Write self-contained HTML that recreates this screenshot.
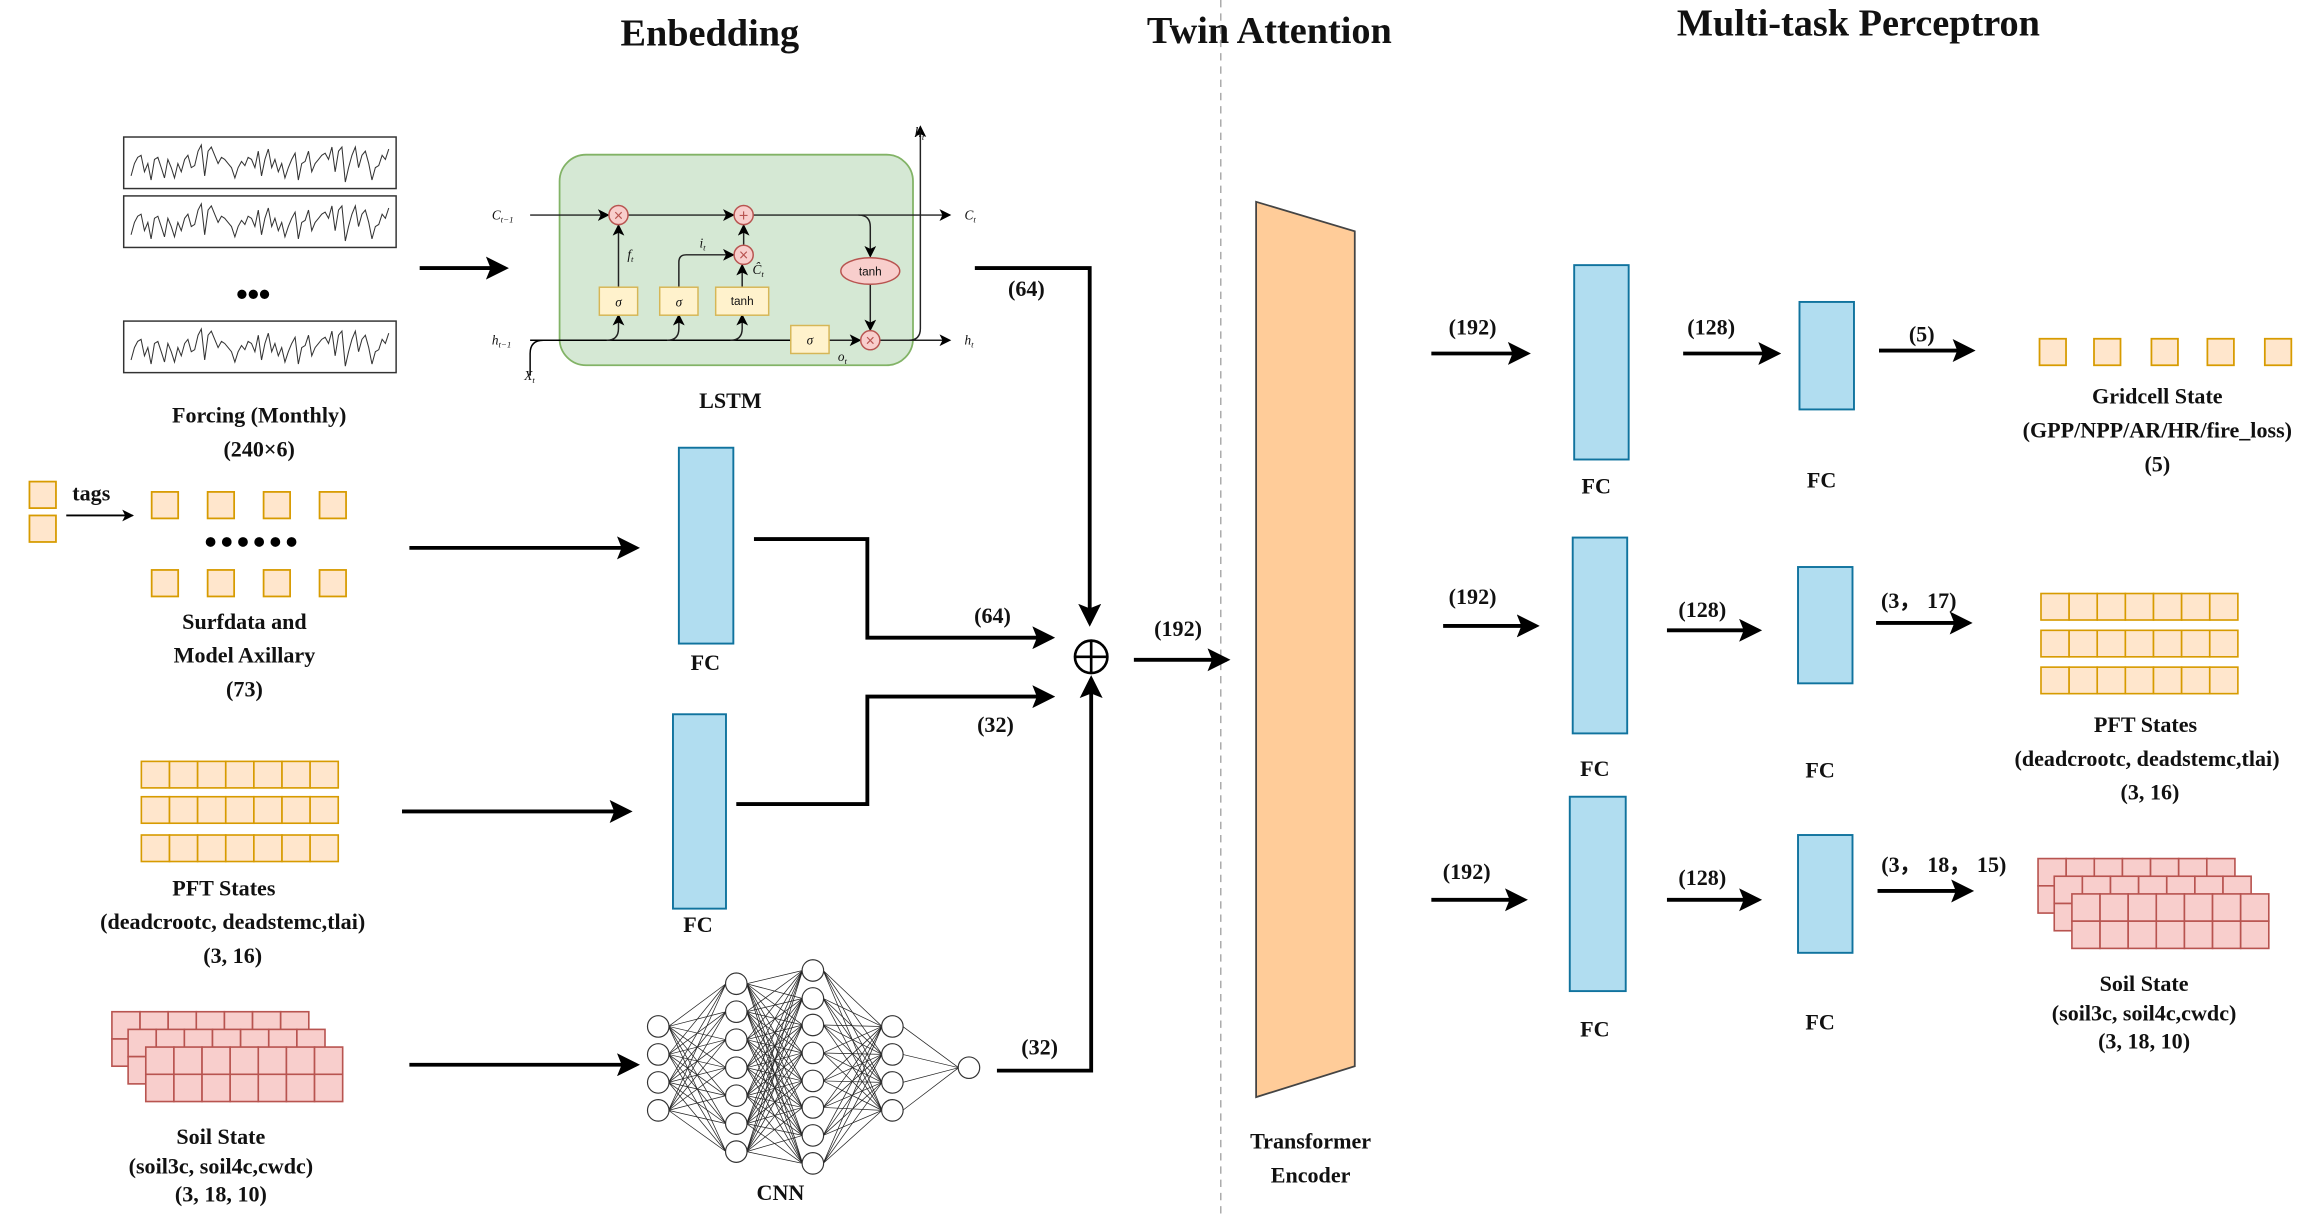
<!DOCTYPE html>
<html><head><meta charset="utf-8"><style>
html,body{margin:0;padding:0;background:#fff;}
svg{display:block;}
.t{font-family:"Liberation Serif",serif;font-weight:bold;font-size:15px;text-anchor:middle;fill:#111;}
.h{font-family:"Liberation Serif",serif;font-weight:bold;font-size:26px;text-anchor:middle;fill:#111;}
.it{font-family:"Liberation Serif",serif;font-style:italic;font-size:9px;fill:#111;}
.s{font-family:"Liberation Sans",sans-serif;font-size:8px;text-anchor:middle;fill:#111;}
.a{stroke:#000;stroke-width:2.6;fill:none;marker-end:url(#ah);}
.l{stroke:#000;stroke-width:2.6;fill:none;}
.fc{fill:#b1ddf0;stroke:#10739e;stroke-width:1.3;}
.sm{stroke:#222;stroke-width:1;fill:none;marker-end:url(#as);}
</style></head><body>
<svg id="sv" width="2309" height="1215" viewBox="0 0 1568 825" xmlns="http://www.w3.org/2000/svg">
<defs>
<marker id="ah" markerWidth="6" markerHeight="6" refX="5" refY="3" orient="auto" markerUnits="strokeWidth"><path d="M0,0 L6,3 L0,6 L1.2,3 z" fill="#000"/></marker>
<marker id="as" markerWidth="8" markerHeight="8" refX="7" refY="4" orient="auto" markerUnits="userSpaceOnUse"><path d="M0,0 L8,4 L0,8 L2,4 z" fill="#000"/></marker>
</defs>
<text class="h" x="482" y="31">Enbedding</text>
<text class="h" x="862" y="29">Twin Attention</text>
<text class="h" x="1262" y="24">Multi-task Perceptron</text>
<line x1="829" y1="0" x2="829" y2="825" stroke="#aaa" stroke-width="1" stroke-dasharray="5,4"/>

<g id="wave"></g>
<text x="172" y="207" font-size="22" text-anchor="middle" font-weight="bold" font-family="Liberation Sans,sans-serif">•••</text>
<text class="t" x="176" y="287">Forcing (Monthly)</text>
<text class="t" x="176" y="310">(240×6)</text>
<line class="a" x1="285" y1="182" x2="343" y2="182"/>

<rect x="380" y="105" width="240" height="143" rx="18" fill="#d5e8d4" stroke="#82b366" stroke-width="1.2"/>
<line class="sm" x1="360" y1="146" x2="413" y2="146"/>
<line class="sm" x1="426" y1="146" x2="498" y2="146"/>
<path class="sm" d="M511,146 H645" />
<path class="sm" d="M583,146 q8,0 8,8 V174"/>
<path class="sm" d="M591,193 V224"/>
<path class="l" style="stroke-width:1;marker-end:none" d="M360,231 H640"/>
<line class="sm" x1="598" y1="231" x2="645" y2="231"/>
<path class="sm" d="M617,231 q8,0 8,-8 V86"/>
<path class="l" style="stroke-width:1" d="M360,255 V240 q0,-9 9,-9"/>
<path class="sm" d="M412,231 q8,0 8,-8 V214"/>
<path class="sm" d="M453,231 q8,0 8,-8 V214"/>
<path class="sm" d="M496,231 q8,0 8,-8 V214"/>
<path class="sm" d="M420,195 V153"/>
<path class="sm" d="M461,195 V178 q0,-5 5,-5 H498"/>
<path class="sm" d="M504,195 V180"/>
<path class="sm" d="M505,166 V153"/>
<path class="sm" d="M563,231 H584"/>
<rect x="407" y="195" width="26" height="19" fill="#fff2cc" stroke="#d6b656"/>
<rect x="448" y="195" width="26" height="19" fill="#fff2cc" stroke="#d6b656"/>
<rect x="486" y="195" width="36" height="19" fill="#fff2cc" stroke="#d6b656"/>
<rect x="537" y="221" width="26" height="19" fill="#fff2cc" stroke="#d6b656"/>
<text class="it" x="420" y="208" text-anchor="middle">σ</text>
<text class="it" x="461" y="208" text-anchor="middle">σ</text>
<text class="s" x="504" y="207">tanh</text>
<text class="it" x="550" y="234" text-anchor="middle">σ</text>
<g fill="#f8cecc" stroke="#b85450">
<circle cx="420" cy="146" r="6.5"/><circle cx="505" cy="146" r="6.5"/><circle cx="505" cy="173" r="6.5"/><circle cx="591" cy="231" r="6.5"/>
<ellipse cx="591" cy="184" rx="20" ry="9"/></g>
<g font-family="Liberation Sans,sans-serif" font-size="11" text-anchor="middle" fill="#b85450">
<text x="420" y="150">×</text><text x="505" y="150">+</text><text x="505" y="177">×</text><text x="591" y="235">×</text></g>
<text class="s" x="591" y="187">tanh</text>
<text class="it" x="334" y="149">C<tspan font-size="6" dy="2">t−1</tspan></text>
<text class="it" x="655" y="149">C<tspan font-size="6" dy="2">t</tspan></text>
<text class="it" x="334" y="234">h<tspan font-size="6" dy="2">t−1</tspan></text>
<text class="it" x="655" y="234">h<tspan font-size="6" dy="2">t</tspan></text>
<text class="it" x="621" y="93" style="font-size:10px">h<tspan font-size="6" dy="2">t</tspan></text>
<text class="it" x="356" y="258">X<tspan font-size="6" dy="2">t</tspan></text>
<text class="it" x="426" y="176">f<tspan font-size="6" dy="2">t</tspan></text>
<text class="it" x="475" y="168">i<tspan font-size="6" dy="2">t</tspan></text>
<text class="it" x="511" y="186">Ĉ<tspan font-size="6" dy="2">t</tspan></text>
<text class="it" x="569" y="245">o<tspan font-size="6" dy="2">t</tspan></text>
<text class="t" x="496" y="277">LSTM</text>
<path class="a" d="M662,182 H740 V423"/>
<text class="t" x="697" y="201">(64)</text>

<g fill="#ffe6cc" stroke="#d79b00" stroke-width="1.2">
<rect x="20" y="327" width="18" height="18"/><rect x="20" y="350" width="18" height="18"/>
<rect x="103" y="334" width="18" height="18"/><rect x="141" y="334" width="18" height="18"/><rect x="179" y="334" width="18" height="18"/><rect x="217" y="334" width="18" height="18"/>
<rect x="103" y="387" width="18" height="18"/><rect x="141" y="387" width="18" height="18"/><rect x="179" y="387" width="18" height="18"/><rect x="217" y="387" width="18" height="18"/>
<rect x="1385" y="230" width="18" height="18"/><rect x="1422" y="230" width="18" height="18"/><rect x="1461" y="230" width="18" height="18"/><rect x="1499" y="230" width="18" height="18"/><rect x="1538" y="230" width="18" height="18"/>
</g>
<text class="t" x="62" y="340">tags</text>
<line x1="45" y1="350" x2="90" y2="350" stroke="#000" stroke-width="1.3" marker-end="url(#as)"/>
<g fill="#000"><circle cx="143" cy="368" r="3.3"/><circle cx="154" cy="368" r="3.3"/><circle cx="165" cy="368" r="3.3"/><circle cx="176" cy="368" r="3.3"/><circle cx="187" cy="368" r="3.3"/><circle cx="198" cy="368" r="3.3"/></g>
<text class="t" x="166" y="427">Surfdata and</text>
<text class="t" x="166" y="450">Model Axillary</text>
<text class="t" x="166" y="473">(73)</text>
<line class="a" x1="278" y1="372" x2="432" y2="372"/>
<rect class="fc" x="461" y="304" width="37" height="133"/>
<text class="t" x="479" y="455">FC</text>
<path class="a" d="M512,366 H589 V433 H714"/>
<text class="t" x="674" y="423">(64)</text>

<g id="pft1"></g>
<text class="t" x="152" y="608">PFT States</text>
<text class="t" x="158" y="631">(deadcrootc, deadstemc,tlai)</text>
<text class="t" x="158" y="654">(3, 16)</text>
<line class="a" x1="273" y1="551" x2="427" y2="551"/>
<rect class="fc" x="457" y="485" width="36" height="132"/>
<text class="t" x="474" y="633">FC</text>
<path class="a" d="M500,546 H589 V473 H714"/>
<text class="t" x="676" y="497">(32)</text>

<g id="soil1"></g>
<text class="t" x="150" y="777">Soil State</text>
<text class="t" x="150" y="797">(soil3c, soil4c,cwdc)</text>
<text class="t" x="150" y="816">(3, 18, 10)</text>
<line class="a" x1="278" y1="723" x2="432" y2="723"/>
<g id="cnn"></g>
<text class="t" x="530" y="815">CNN</text>
<path class="a" d="M677,727 H741 V461"/>
<text class="t" x="706" y="716">(32)</text>

<circle cx="741" cy="446" r="11" fill="#fff" stroke="#000" stroke-width="1.8"/>
<path d="M730,446 H752 M741,435 V457" stroke="#000" stroke-width="1.8"/>
<line class="a" x1="770" y1="448" x2="833" y2="448"/>
<text class="t" x="800" y="432">(192)</text>

<polygon points="853,137 920,157 920,724 853,745" fill="#ffcc99" stroke="#444" stroke-width="1.2"/>
<text class="t" x="890" y="780">Transformer</text>
<text class="t" x="890" y="803">Encoder</text>

<line class="a" x1="972" y1="240" x2="1037" y2="240"/><text class="t" x="1000" y="227">(192)</text>
<rect class="fc" x="1069" y="180" width="37" height="132"/><text class="t" x="1084" y="335">FC</text>
<line class="a" x1="1143" y1="240" x2="1207" y2="240"/><text class="t" x="1162" y="227">(128)</text>
<rect class="fc" x="1222" y="205" width="37" height="73"/><text class="t" x="1237" y="331">FC</text>
<line class="a" x1="1276" y1="238" x2="1339" y2="238"/><text class="t" x="1305" y="232">(5)</text>
<text class="t" x="1465" y="274">Gridcell State</text>
<text class="t" x="1465" y="297">(GPP/NPP/AR/HR/fire_loss)</text>
<text class="t" x="1465" y="320">(5)</text>
<line class="a" x1="980" y1="425" x2="1043" y2="425"/><text class="t" x="1000" y="410">(192)</text>
<rect class="fc" x="1068" y="365" width="37" height="133"/><text class="t" x="1083" y="527">FC</text>
<line class="a" x1="1132" y1="428" x2="1194" y2="428"/><text class="t" x="1156" y="419">(128)</text>
<rect class="fc" x="1221" y="385" width="37" height="79"/><text class="t" x="1236" y="528">FC</text>
<line class="a" x1="1274" y1="423" x2="1337" y2="423"/><text class="t" x="1303" y="413">(3， 17)</text>
<g id="pft2"></g>
<text class="t" x="1457" y="497">PFT States</text>
<text class="t" x="1458" y="520">(deadcrootc, deadstemc,tlai)</text>
<text class="t" x="1460" y="543">(3, 16)</text>
<line class="a" x1="972" y1="611" x2="1035" y2="611"/><text class="t" x="996" y="597">(192)</text>
<rect class="fc" x="1066" y="541" width="38" height="132"/><text class="t" x="1083" y="704">FC</text>
<line class="a" x1="1132" y1="611" x2="1194" y2="611"/><text class="t" x="1156" y="601">(128)</text>
<rect class="fc" x="1221" y="567" width="37" height="80"/><text class="t" x="1236" y="699">FC</text>
<line class="a" x1="1275" y1="605" x2="1338" y2="605"/><text class="t" x="1320" y="592">(3， 18， 15)</text>
<g id="soil2"></g>
<text class="t" x="1456" y="673">Soil State</text>
<text class="t" x="1456" y="693">(soil3c, soil4c,cwdc)</text>
<text class="t" x="1456" y="712">(3, 18, 10)</text>
</svg>
<script>
var NS="http://www.w3.org/2000/svg";
function el(p,t,a){var e=document.createElementNS(NS,t);for(var k in a)e.setAttribute(k,a[k]);document.getElementById(p).appendChild(e);return e;}
var ys=[0.8,0.5,0.35,0.3,0.7,0.5,0.9,0.4,0.35,0.6,0.85,0.4,0.6,0.85,0.5,0.7,0.4,0.3,0.6,0.55,0.2,0.05,0.8,0.2,0.1,0.3,0.5,0.35,0.4,0.5,0.6,0.85,0.6,0.45,0.55,0.35,0.4,0.6,0.2,0.8,0.4,0.15,0.6,0.4,0.7,0.5,0.85,0.6,0.4,0.25,0.9,0.5,0.45,0.2,0.7,0.5,0.4,0.3,0.25,0.4,0.1,0.7,0.2,0.1,0.95,0.6,0.3,0.1,0.6,0.3,0.2,0.5,0.9,0.6,0.55,0.3,0.4,0.15];
[93,133,218].forEach(function(y0){
 el("wave","rect",{x:84,y:y0,width:185,height:35,fill:"#fff",stroke:"#333","stroke-width":1});
 var p="";for(var i=0;i<ys.length;i++){p+=(i?"L":"M")+(89+i*175/(ys.length-1)).toFixed(1)+","+(y0+4+ys[i]*28).toFixed(1);}
 el("wave","path",{d:p,fill:"none",stroke:"#333","stroke-width":0.7});
});
function grid(g,x,y,cols,rows,w,h,fill,st){for(var r=0;r<rows;r++)for(var c=0;c<cols;c++)el(g,"rect",{x:x+c*w,y:y+r*h,width:w,height:h,fill:fill,stroke:st,"stroke-width":1.1});}
[517,541,567].forEach(function(y){grid("pft1",96,y,7,1,19.1,18,"#ffe6cc","#d79b00");});
[403,428,453].forEach(function(y){grid("pft2",1386,y,7,1,19.1,18,"#ffe6cc","#d79b00");});
[[76,687],[87,699],[99,711]].forEach(function(p){grid("soil1",p[0],p[1],7,2,19.1,18.5,"#f8cecc","#b85450");});
[[1384,583],[1395,595],[1407,607]].forEach(function(p){grid("soil2",p[0],p[1],7,2,19.1,18.5,"#f8cecc","#b85450");});
var L=[[447,[697,716,735,754]],[500,[668,687,706,725,744,763,782]],[552,[659,678,696,715,734,752,771,790]],[606,[697,716,735,754]],[658,[725]]];
for(var i=0;i<L.length-1;i++){var a=L[i],b=L[i+1];a[1].forEach(function(y1){b[1].forEach(function(y2){el("cnn","line",{x1:a[0]+7,y1:y1,x2:b[0]-7,y2:y2,stroke:"#222","stroke-width":0.5});});});}
L.forEach(function(l){l[1].forEach(function(y){el("cnn","circle",{cx:l[0],cy:y,r:7.3,fill:"#fff",stroke:"#333","stroke-width":0.8});});});
</script>
</body></html>
